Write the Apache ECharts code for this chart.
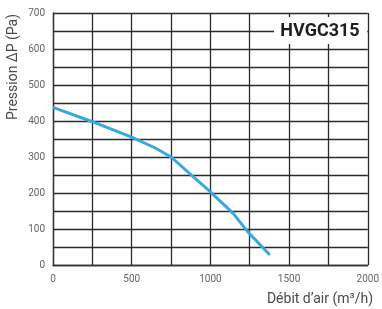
<!DOCTYPE html>
<html>
<head>
<meta charset="utf-8">
<script src="https://cdn.jsdelivr.net/npm/echarts@6/dist/echarts.min.js"></script>
<style>
  html, body { margin: 0; padding: 0; background: #fff; }
  #chart { width: 382px; height: 309px; }
</style>
</head>
<body>
<div id="chart"></div>
<script>
  // débit (m3/h) et pression (Pa)
  var debit = [0, 250, 500, 650, 750, 1000, 1143, 1238, 1378]
  var pression = [438, 398, 355, 325, 300, 203, 144, 92, 28]
  var xTicks = [0, 500, 1000, 1500, 2000]
  var yTicks = [0, 100, 200, 300, 400, 500, 600, 700]
  var model = 'HVGC315'

  var tickFont = '"Liberation Sans Narrow", "Roboto", sans-serif'
  var points = []
  for (var i = 0; i < debit.length; i++) {
    points.push([debit[i], pression[i]])
  }

  var myChart = echarts.init(document.getElementById('chart'))
  var option = {
    animation: false,
    grid: { left: 53, right: 14, top: 13, bottom: 44 },
    xAxis: {
      type: 'value',
      min: 0,
      max: 2000,
      interval: 250,
      axisLine: { show: true, lineStyle: { color: '#333', width: 1.3 } },
      axisTick: { show: false },
      splitLine: { show: true, lineStyle: { color: '#2a2a2a', width: 1.3 } },
      axisLabel: {
        margin: 9,
        color: '#666',
        fontSize: 10,
        fontFamily: tickFont,
        formatter: function (v) { return xTicks.indexOf(v) >= 0 ? v : '' }
      }
    },
    yAxis: {
      type: 'value',
      min: 0,
      max: 700,
      interval: 50,
      axisLine: { show: true, lineStyle: { color: '#333', width: 1.3 } },
      axisTick: { show: false },
      splitLine: { show: true, lineStyle: { color: '#2a2a2a', width: 1.3 } },
      axisLabel: {
        margin: 8,
        color: '#666',
        fontSize: 10,
        fontFamily: tickFont,
        formatter: function (v) { return yTicks.indexOf(v) >= 0 ? v : '' }
      }
    },
    graphic: [
      {
        type: 'rect',
        shape: { x: 274, y: 17, width: 93, height: 27 },
        style: { fill: '#fff' },
        z: 100
      },
      {
        type: 'text',
        x: 320, y: 31,
        style: {
          text: model,
          fill: '#1e1e1e',
          font: 'bold 18px "Liberation Sans Narrow", "Roboto", sans-serif',
          textAlign: 'center',
          textVerticalAlign: 'middle'
        },
        z: 101
      },
      {
        type: 'text',
        x: 13, y: 67,
        rotation: Math.PI / 2,
        style: {
          text: 'Pression ΔP (Pa)',
          fill: '#4a4a4a',
          font: '14px "Roboto", sans-serif',
          textAlign: 'center',
          textVerticalAlign: 'middle'
        }
      },
      {
        type: 'text',
        x: 373, y: 299,
        style: {
          text: 'Débit d\u2019air (m³/h)',
          fill: '#4a4a4a',
          font: '14px "Roboto", sans-serif',
          textAlign: 'right',
          textVerticalAlign: 'middle'
        }
      }
    ],
    series: [
      {
        type: 'line',
        data: points,
        showSymbol: false,
        smooth: false,
        lineStyle: { color: '#36a9dd', width: 3 },
        z: 5
      }
    ]
  }
  myChart.setOption(option)
</script>
</body>
</html>
